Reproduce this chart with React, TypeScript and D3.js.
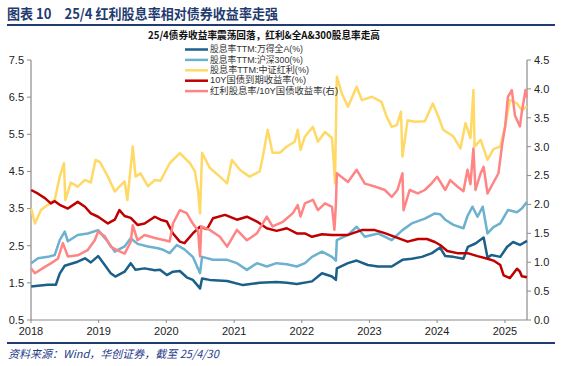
import React from 'react';
import * as d3 from 'd3';

const W = 562;
const H = 366;

// ---- data ----
const legendLabels = [
  '股息率TTM:万得全A(%)',
  '股息率TTM:沪深300(%)',
  '股息率TTM:中证红利(%)',
  '10Y国债到期收益率(%)',
  '红利股息率/10Y国债收益率(右)',
];
const legendWidths = [93, 93, 99, 96, 128];
const colors = ['#1B6089', '#6CB1CF', '#FFD966', '#C00000', '#FF8585'];

const leftTicks = [0.5, 1.5, 2.5, 3.5, 4.5, 5.5, 6.5, 7.5];
const rightTicks = [0, 0.5, 1, 1.5, 2, 2.5, 3, 3.5, 4, 4.5];
const yearTicks = ['2018', '2019', '2020', '2021', '2022', '2023', '2024', '2025'];

const allA: [string, number][] = [
  ['2018-01-02', 1.4], ['2018-02-08', 1.42], ['2018-04-02', 1.45], ['2018-05-15', 1.45],
  ['2018-06-05', 1.75], ['2018-07-02', 1.96], ['2018-09-10', 2.07], ['2018-10-19', 2.16],
  ['2018-11-20', 2.05], ['2018-12-29', 2.22], ['2019-02-03', 1.98], ['2019-03-07', 1.76],
  ['2019-04-01', 1.67], ['2019-05-21', 1.8], ['2019-06-23', 2.03], ['2019-07-19', 1.85],
  ['2019-09-06', 1.89], ['2019-10-31', 1.84], ['2019-11-28', 1.85], ['2020-01-04', 1.71],
  ['2020-02-06', 1.8], ['2020-03-14', 1.82], ['2020-04-20', 1.65], ['2020-05-23', 1.58],
  ['2020-07-01', 1.35], ['2020-07-12', 1.62], ['2020-08-22', 1.58], ['2020-11-24', 1.55],
  ['2021-02-18', 1.44], ['2021-05-19', 1.5], ['2021-08-18', 1.52], ['2021-10-12', 1.5],
  ['2021-12-05', 1.47], ['2022-02-25', 1.54], ['2022-04-20', 1.76], ['2022-06-13', 1.67],
  ['2022-07-04', 1.58], ['2022-07-09', 1.89], ['2022-09-07', 2.03], ['2022-10-24', 2.1],
  ['2022-12-23', 1.98], ['2023-02-16', 1.94], ['2023-05-01', 1.94], ['2023-06-28', 2.12],
  ['2023-08-17', 2.15], ['2023-10-11', 2.2], ['2023-12-04', 2.3], ['2024-01-17', 2.45],
  ['2024-02-14', 2.22], ['2024-03-29', 2.2], ['2024-05-22', 2.15], ['2024-06-15', 2.47],
  ['2024-07-26', 2.56], ['2024-09-08', 2.72], ['2024-09-29', 2.18], ['2024-10-20', 2.25],
  ['2024-12-07', 2.2], ['2025-01-13', 2.47], ['2025-02-14', 2.6], ['2025-03-23', 2.52],
  ['2025-04-30', 2.63],
];

const hs300: [string, number][] = [
  ['2018-01-02', 2.03], ['2018-02-08', 2.16], ['2018-04-02', 2.2], ['2018-05-09', 2.25],
  ['2018-06-05', 2.65], ['2018-07-02', 2.88], ['2018-07-19', 2.62], ['2018-09-10', 2.79],
  ['2018-11-03', 2.83], ['2018-12-29', 2.92], ['2019-02-20', 2.61], ['2019-03-29', 2.34],
  ['2019-05-21', 2.48], ['2019-06-23', 2.7], ['2019-07-30', 2.55], ['2019-09-24', 2.48],
  ['2019-11-17', 2.43], ['2019-12-10', 2.4], ['2020-01-19', 2.3], ['2020-02-27', 2.52],
  ['2020-04-08', 2.4], ['2020-05-23', 2.2], ['2020-07-01', 1.76], ['2020-07-12', 2.2],
  ['2020-09-09', 2.12], ['2020-11-24', 2.12], ['2021-01-16', 2.03], ['2021-03-11', 1.85],
  ['2021-05-04', 2.03], ['2021-06-26', 1.94], ['2021-08-18', 2.03], ['2021-10-12', 2.0],
  ['2021-12-05', 1.94], ['2022-01-18', 2.03], ['2022-02-25', 2.2], ['2022-04-20', 2.34],
  ['2022-06-13', 2.2], ['2022-07-04', 2.1], ['2022-07-09', 2.65], ['2022-09-07', 2.79],
  ['2022-10-24', 3.01], ['2022-12-07', 2.74], ['2023-02-16', 2.83], ['2023-05-01', 2.65],
  ['2023-06-28', 2.92], ['2023-08-17', 3.1], ['2023-10-27', 3.23], ['2023-12-20', 3.37],
  ['2024-01-17', 3.35], ['2024-02-14', 3.2], ['2024-03-29', 3.06], ['2024-05-22', 2.97],
  ['2024-06-13', 3.3], ['2024-07-10', 3.55], ['2024-08-06', 3.28], ['2024-09-03', 3.55],
  ['2024-09-29', 2.83], ['2024-10-31', 3.0], ['2024-12-07', 3.1], ['2025-01-17', 3.46],
  ['2025-03-07', 3.4], ['2025-04-02', 3.5], ['2025-04-30', 3.68],
];

const csDividend: [string, number][] = [
  ['2018-01-02', 3.5], ['2018-01-22', 3.1], ['2018-02-24', 3.46], ['2018-04-02', 3.6],
  ['2018-05-09', 3.73], ['2018-06-05', 4.36], ['2018-06-28', 4.72], ['2018-07-05', 3.73],
  ['2018-08-04', 4.2], ['2018-09-10', 4.09], ['2018-10-19', 4.27], ['2018-11-20', 4.2],
  ['2018-12-15', 4.81], ['2019-01-08', 4.75], ['2019-02-20', 4.36], ['2019-03-29', 3.96],
  ['2019-05-21', 4.23], ['2019-06-05', 3.73], ['2019-07-04', 5.17], ['2019-07-19', 4.36],
  ['2019-08-15', 4.45], ['2019-09-24', 4.1], ['2019-10-31', 4.27], ['2019-12-01', 4.25],
  ['2020-01-19', 4.72], ['2020-03-14', 4.99], ['2020-05-08', 4.72], ['2020-06-03', 4.5],
  ['2020-06-20', 4.0], ['2020-07-01', 3.37], ['2020-07-12', 5.0], ['2020-08-22', 4.6],
  ['2020-10-16', 4.36], ['2020-11-24', 4.18], ['2020-12-20', 4.81], ['2021-02-02', 4.54],
  ['2021-03-25', 4.36], ['2021-05-19', 4.5], ['2021-06-05', 4.9], ['2021-07-01', 5.62],
  ['2021-07-27', 5.0], ['2021-09-04', 5.0], ['2021-10-12', 5.17], ['2021-11-24', 5.3],
  ['2021-12-10', 5.62], ['2021-12-25', 5.08], ['2022-01-18', 5.44], ['2022-03-02', 5.7],
  ['2022-03-29', 5.3], ['2022-05-06', 5.56], ['2022-06-13', 5.4], ['2022-06-24', 4.63],
  ['2022-06-29', 4.18], ['2022-07-09', 7.05], ['2022-08-05', 6.6], ['2022-09-07', 6.24],
  ['2022-10-24', 6.78], ['2022-11-21', 6.42], ['2023-01-14', 6.51], ['2023-03-07', 6.37],
  ['2023-04-04', 5.97], ['2023-05-01', 5.7], ['2023-05-29', 5.75], ['2023-06-20', 6.11],
  ['2023-06-28', 4.9], ['2023-07-26', 5.88], ['2023-09-03', 5.84], ['2023-10-27', 5.85],
  ['2023-12-09', 6.33], ['2024-01-06', 6.0], ['2024-02-03', 5.62], ['2024-03-29', 5.44],
  ['2024-05-06', 5.12], ['2024-06-02', 5.8], ['2024-06-29', 5.4], ['2024-07-15', 6.69],
  ['2024-07-21', 5.17], ['2024-08-23', 5.35], ['2024-09-29', 4.81], ['2024-10-31', 5.1],
  ['2024-12-07', 5.17], ['2025-01-02', 5.7], ['2025-01-28', 6.42], ['2025-03-07', 6.33],
  ['2025-04-02', 6.15], ['2025-04-30', 6.25],
];

const cgb10y: [string, number][] = [
  ['2018-01-02', 4.0], ['2018-02-08', 3.9], ['2018-03-17', 3.78], ['2018-04-18', 3.64],
  ['2018-05-09', 3.7], ['2018-06-05', 3.6], ['2018-07-19', 3.5], ['2018-09-10', 3.68],
  ['2018-10-19', 3.55], ['2018-11-20', 3.37], ['2018-12-29', 3.28], ['2019-02-20', 3.1],
  ['2019-03-29', 3.2], ['2019-04-23', 3.46], ['2019-05-21', 3.3], ['2019-06-23', 3.25],
  ['2019-07-30', 3.06], ['2019-09-06', 3.1], ['2019-10-31', 3.28], ['2019-12-01', 3.2],
  ['2020-01-04', 3.15], ['2020-02-06', 2.83], ['2020-03-14', 2.61], ['2020-04-08', 2.57],
  ['2020-05-23', 2.83], ['2020-07-01', 3.01], ['2020-08-08', 2.95], ['2020-09-09', 3.24],
  ['2020-11-13', 3.33], ['2021-01-16', 3.2], ['2021-03-11', 3.28], ['2021-05-04', 3.15],
  ['2021-06-26', 2.97], ['2021-08-18', 2.9], ['2021-10-12', 2.97], ['2021-12-05', 2.83],
  ['2022-01-18', 2.83], ['2022-02-25', 2.74], ['2022-04-20', 2.81], ['2022-06-13', 2.79],
  ['2022-09-07', 2.79], ['2022-11-21', 2.92], ['2023-01-30', 2.92], ['2023-03-25', 2.84],
  ['2023-05-18', 2.74], ['2023-07-26', 2.61], ['2023-09-19', 2.68], ['2023-11-07', 2.68],
  ['2023-12-20', 2.6], ['2024-01-17', 2.52], ['2024-02-25', 2.36], ['2024-04-19', 2.3],
  ['2024-06-13', 2.3], ['2024-08-06', 2.22], ['2024-09-29', 2.15], ['2024-10-31', 2.1],
  ['2024-12-07', 1.98], ['2024-12-25', 1.7], ['2025-01-28', 1.63], ['2025-03-07', 1.88],
  ['2025-03-23', 1.8], ['2025-04-02', 1.68], ['2025-04-30', 1.65],
];

const ratio: [string, number][] = [
  ['2018-01-02', 0.89], ['2018-01-22', 0.81], ['2018-03-17', 0.92], ['2018-04-18', 0.98],
  ['2018-05-26', 1.06], ['2018-06-22', 1.33], ['2018-07-19', 1.1], ['2018-09-10', 1.12],
  ['2018-11-03', 1.21], ['2018-12-11', 1.38], ['2018-12-29', 1.53], ['2019-02-03', 1.45],
  ['2019-03-07', 1.27], ['2019-04-15', 1.2], ['2019-05-21', 1.15], ['2019-06-23', 1.35],
  ['2019-07-04', 1.64], ['2019-07-30', 1.38], ['2019-09-06', 1.47], ['2019-10-31', 1.42],
  ['2019-12-24', 1.38], ['2020-01-19', 1.36], ['2020-02-06', 1.67], ['2020-03-14', 1.9],
  ['2020-04-20', 1.85], ['2020-05-23', 1.67], ['2020-06-20', 1.55], ['2020-07-01', 1.1],
  ['2020-07-08', 1.62], ['2020-08-22', 1.56], ['2020-10-16', 1.44], ['2020-11-24', 1.27],
  ['2021-01-16', 1.56], ['2021-03-11', 1.38], ['2021-05-04', 1.5], ['2021-06-26', 1.79],
  ['2021-07-27', 1.62], ['2021-09-21', 1.7], ['2021-11-14', 1.85], ['2021-12-10', 1.99],
  ['2021-12-25', 1.79], ['2022-01-18', 2.02], ['2022-03-02', 2.08], ['2022-03-29', 1.9],
  ['2022-05-06', 2.02], ['2022-06-13', 1.96], ['2022-06-26', 1.56], ['2022-07-04', 2.0],
  ['2022-07-09', 2.54], ['2022-09-07', 2.39], ['2022-10-24', 2.6], ['2022-12-07', 2.36],
  ['2023-01-30', 2.31], ['2023-03-25', 2.25], ['2023-05-01', 2.13], ['2023-06-01', 2.25],
  ['2023-06-28', 2.54], ['2023-07-04', 1.9], ['2023-08-06', 2.25], ['2023-09-19', 2.19],
  ['2023-10-27', 2.25], ['2023-12-04', 2.37], ['2024-01-01', 2.48], ['2024-02-14', 2.25],
  ['2024-03-12', 2.42], ['2024-04-19', 2.31], ['2024-05-22', 2.23], ['2024-06-13', 2.6],
  ['2024-06-29', 2.35], ['2024-07-15', 2.97], ['2024-07-26', 2.25], ['2024-08-23', 2.54],
  ['2024-09-08', 2.65], ['2024-09-29', 2.19], ['2024-10-26', 2.35], ['2024-11-27', 2.54],
  ['2024-12-18', 3.06], ['2025-01-02', 3.35], ['2025-01-17', 3.86], ['2025-02-07', 3.98],
  ['2025-02-24', 3.54], ['2025-03-23', 3.35], ['2025-04-02', 3.6], ['2025-04-22', 3.98],
  ['2025-04-30', 3.85],
];

const parse = d3.timeParse('%Y-%m-%d');
const numFont = '"Liberation Sans", Arial, sans-serif';
const cjkFont = '"Noto Sans CJK SC", "Noto Sans", sans-serif';
const legendFont = '"Liberation Sans", "Noto Sans CJK SC", sans-serif';

const App: React.FC = () => {
  const left = 31, right = 527, top = 60, bottom = 320;

  const x = d3.scaleTime()
    .domain([parse('2018-01-01') as Date, parse('2025-04-30') as Date])
    .range([left, right]);
  const yL = d3.scaleLinear().domain([0.5, 7.5]).range([bottom, top]);
  const yR = d3.scaleLinear().domain([0, 4.5]).range([bottom, top]);

  const lineL = d3.line<[string, number]>()
    .x(d => x(parse(d[0]) as Date))
    .y(d => yL(d[1]));
  const lineR = d3.line<[string, number]>()
    .x(d => x(parse(d[0]) as Date))
    .y(d => yR(d[1]));

  const paths = [
    lineL(allA), lineL(hs300), lineL(csDividend), lineL(cgb10y), lineR(ratio),
  ];

  const axisColor = '#8c8c8c';

  return (
    <svg width={W} height={H} style={{ position: 'absolute', left: 0, top: 0, background: '#fff' }}>
      {/* title */}
      <text x={7} y={19} fontFamily={cjkFont} fontWeight="bold" fontSize={14} fill="#1F3B70"
        textLength={271} lengthAdjust="spacingAndGlyphs">图表 10　25/4 红利股息率相对债券收益率走强</text>
      <line x1={7} x2={555} y1={25} y2={25} stroke="#1F3B70" strokeWidth={2} />
      <text x={148} y={38.5} fontFamily={cjkFont} fontWeight="bold" fontSize={10.5} fill="#111"
        textLength={232} lengthAdjust="spacingAndGlyphs">25/4债券收益率震荡回落，红利&amp;全A&amp;300股息率走高</text>

      {/* axes */}
      <line x1={left} x2={left} y1={top} y2={bottom} stroke={axisColor} strokeWidth={1.2} />
      <line x1={right} x2={right} y1={top} y2={bottom} stroke={axisColor} strokeWidth={1.2} />
      <line x1={left} x2={right} y1={bottom} y2={bottom} stroke={axisColor} strokeWidth={1.2} />
      {leftTicks.map(t => (
        <g key={'l' + t}>
          <line x1={left - 4} x2={left} y1={yL(t)} y2={yL(t)} stroke={axisColor} />
          <text x={left - 7} y={yL(t)} dy="0.35em" textAnchor="end" fontFamily={numFont} fontSize={11} fill="#222">
            {d3.format('.1f')(t)}
          </text>
        </g>
      ))}
      {rightTicks.map(t => (
        <g key={'r' + t}>
          <line x1={right} x2={right + 4} y1={yR(t)} y2={yR(t)} stroke={axisColor} />
          <text x={right + 7} y={yR(t)} dy="0.35em" textAnchor="start" fontFamily={numFont} fontSize={11} fill="#222">
            {d3.format('.1f')(t)}
          </text>
        </g>
      ))}
      {yearTicks.map(yr => {
        const px = x(parse(yr + '-01-01') as Date);
        return (
          <g key={yr}>
            <line x1={px} x2={px} y1={bottom} y2={bottom + 3} stroke={axisColor} />
            <text x={px} y={335} textAnchor="middle" fontFamily={numFont} fontSize={11} fill="#222">{yr}</text>
          </g>
        );
      })}

      {/* series */}
      {paths.map((d, i) => (
        <path key={i} d={d || ''} fill="none" stroke={colors[i]} strokeWidth={2.5} strokeLinejoin="round" />
      ))}

      {/* legend */}
      {legendLabels.map((lab, i) => {
        const ly = 49.5 + i * 10.4;
        return (
          <g key={lab}>
            <line x1={185} x2={208} y1={ly} y2={ly} stroke={colors[i]} strokeWidth={2.5} />
            <text x={210} y={ly - 0.5} dy="0.35em" fontFamily={legendFont} fontSize={9} fill="#333"
              textLength={legendWidths[i]} lengthAdjust="spacingAndGlyphs">{lab}</text>
          </g>
        );
      })}

      {/* footer */}
      <line x1={7} x2={555} y1={343} y2={343} stroke="#1F3B70" strokeWidth={2} />
      <text x={8} y={358} fontFamily={cjkFont} fontStyle="italic" fontSize={11} fill="#1F3B8A">
        资料来源：Wind，华创证券，截至 25/4/30
      </text>
    </svg>
  );
};

export default App;
